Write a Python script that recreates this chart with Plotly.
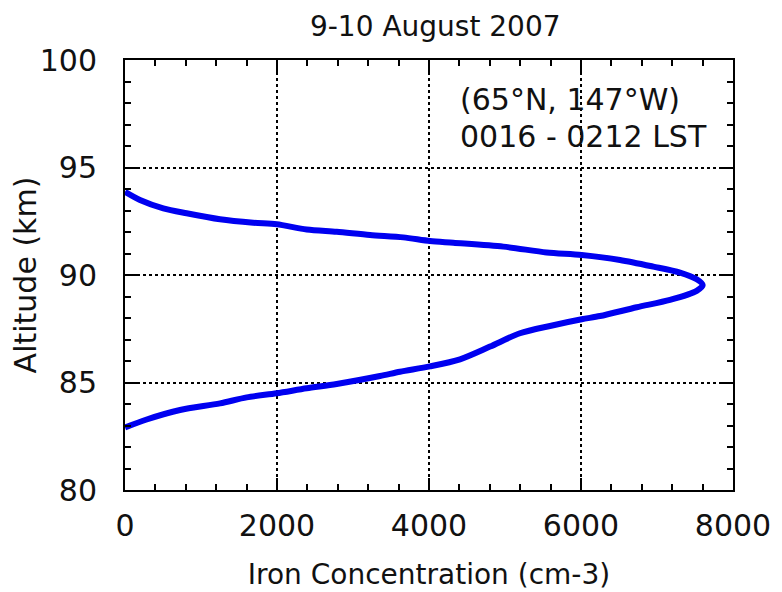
import plotly.graph_objects as go

# Iron concentration profile (cm^-3) vs altitude (km)
iron_conc = [0, 197, 504, 811, 1250, 1688, 1996, 2390, 2785, 3224, 3662, 4013,
             4320, 4978, 5548, 6009, 6513, 6952, 7303, 7522, 7601, 7522, 7171,
             6733, 6250, 6009, 5592, 5197, 4803, 4408, 4013, 3618, 3355,
             2785, 2390, 1996, 1601, 1250, 724, 285, 0]
altitude = [93.87, 93.49, 93.10, 92.87, 92.59, 92.43, 92.36, 92.12, 92.01, 91.86,
            91.75, 91.58, 91.50, 91.32, 91.05, 90.93, 90.70, 90.39, 90.11, 89.80,
            89.53, 89.26, 88.84, 88.50, 88.09, 87.94, 87.63, 87.29, 86.67, 86.08,
            85.75, 85.50, 85.30, 84.93, 84.73, 84.50, 84.31, 84.03, 83.72,
            83.28, 82.91]

x_ticks = [0, 2000, 4000, 6000, 8000]
y_ticks = [80, 85, 90, 95, 100]

title_text = "9-10 August 2007"
x_title = "Iron Concentration (cm-3)"
y_title = "Altitude (km)"
note_lines = ["(65°N, 147°W)", "0016 - 0212 LST"]

FONT = "DejaVu Sans"
TXT = "#111111"

fig = go.Figure()
fig.add_trace(go.Scatter(
    x=iron_conc, y=altitude, mode="lines",
    line=dict(color="#0000f0", width=6, shape="spline", smoothing=0.8),
    showlegend=False, hoverinfo="skip",
))

axis_common = dict(
    showline=True, linecolor="black", linewidth=2, mirror="allticks",
    ticks="inside", ticklen=12, tickwidth=2, tickcolor="black",
    showgrid=True, gridcolor="black", gridwidth=1.5, griddash="dot",
    zeroline=False, automargin=False,
    tickfont=dict(family=FONT, size=30, color=TXT),
)

fig.update_xaxes(
    range=[0, 8000], tickvals=x_ticks, ticktext=[str(v) for v in x_ticks],
    minor=dict(ticks="inside", ticklen=6, tickwidth=2, tickcolor="black",
               dtick=400, tick0=0, showgrid=False),
    ticklabelstandoff=8,
    title=dict(text=x_title, font=dict(family=FONT, size=28, color=TXT), standoff=22),
    **axis_common,
)
fig.update_yaxes(
    range=[80, 100], tickvals=y_ticks, ticktext=[str(v) for v in y_ticks],
    minor=dict(ticks="inside", ticklen=6, tickwidth=2, tickcolor="black",
               dtick=1, tick0=80, showgrid=False),
    ticklabelstandoff=20,
    title=dict(text=y_title, font=dict(family=FONT, size=30, color=TXT), standoff=2),
    **axis_common,
)

fig.add_annotation(x=4382, y=98.14, xref="x", yref="y", text=note_lines[0],
                   showarrow=False, xanchor="left", yanchor="middle",
                   font=dict(family=FONT, size=30, color=TXT))
fig.add_annotation(x=4382, y=96.42, xref="x", yref="y", text=note_lines[1],
                   showarrow=False, xanchor="left", yanchor="middle",
                   font=dict(family=FONT, size=30, color=TXT))

fig.update_layout(
    width=774, height=584,
    margin=dict(l=117, r=49, t=52, b=102),
    paper_bgcolor="white", plot_bgcolor="white",
    title=dict(text=title_text, x=0.552, xanchor="center", y=0.969, yanchor="middle",
               font=dict(family=FONT, size=28, color=TXT)),
)

fig.write_html("out.html")
